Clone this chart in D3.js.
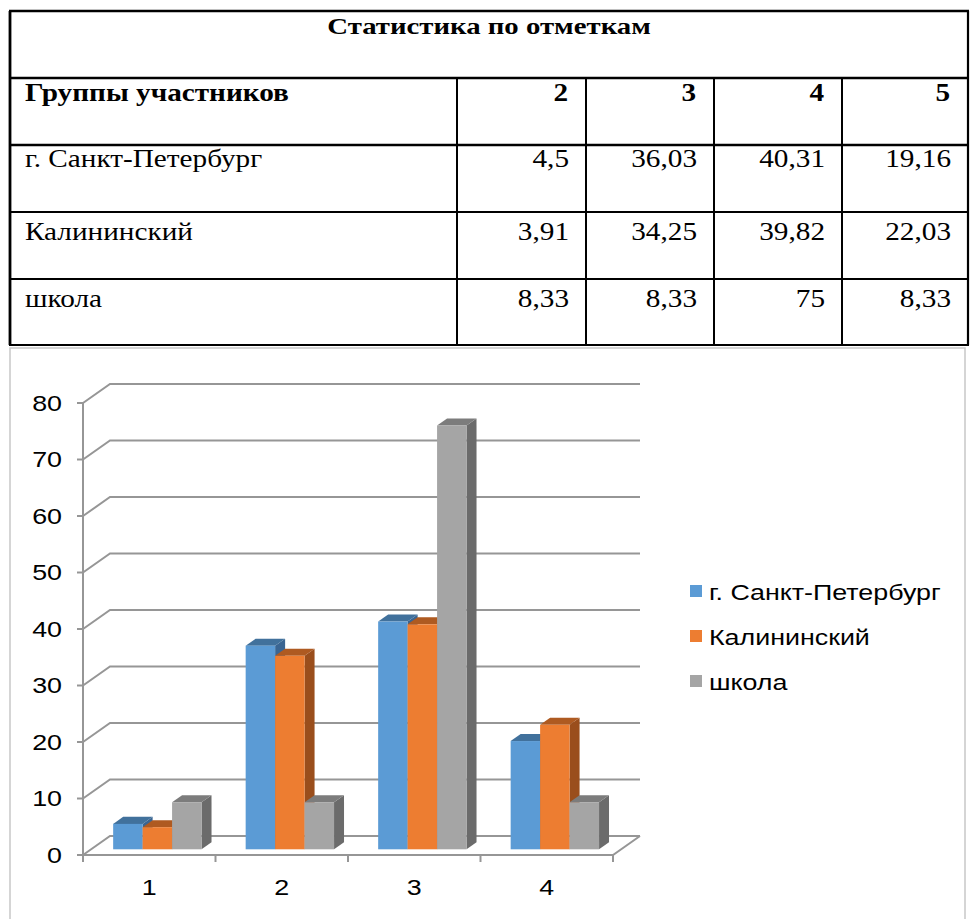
<!DOCTYPE html>
<html>
<head>
<meta charset="utf-8">
<script src="https://cdn.jsdelivr.net/npm/d3@7"></script>
<style>
  body { margin: 0; background: #fff; }
</style>
</head>
<body>
<script>
// table + chart data
const title = "Статистика по отметкам";
const headLabel = "Группы участников";
const marks = ["2", "3", "4", "5"];
const groups = ["г. Санкт-Петербург", "Калининский", "школа"];
const spb = [4.5, 36.03, 40.31, 19.16];
const kalin = [3.91, 34.25, 39.82, 22.03];
const school = [8.33, 8.33, 75, 8.33];
const categories = ["1", "2", "3", "4"];
const yTicks = [0, 10, 20, 30, 40, 50, 60, 70, 80];
const colors = ["#5b9bd5", "#ed7d31", "#a5a5a5"];
const tops = ["#41719c", "#ae5a21", "#7c7c7c"];
const sides = ["#3a6592", "#9a4e1c", "#6b6b6b"];

const series = [spb, kalin, school];
const fmt = v => String(v).replace(".", ",");

const W = 970, H = 919;
const svg = d3.select("body").append("svg")
    .attr("width", W).attr("height", H)
    .attr("viewBox", [0, 0, W, H]);

// text placed at (x,y), stretched horizontally (the picture is wider than tall)
function label(sel, x, y, txt, opts) {
  return sel.append("text")
    .attr("transform", `translate(${x},${y}) scale(${opts.sx},1)`)
    .attr("text-anchor", opts.anchor || "start")
    .attr("dy", opts.dy || null)
    .style("font-family", opts.family)
    .style("font-weight", opts.bold ? "700" : "400")
    .style("font-size", opts.size + "px")
    .attr("fill", "#000")
    .text(txt);
}

// ---------- table ----------
const tL = 10, tR = 968;
const colX = [tL, 457, 586, 714, 842, tR];
const rowY = [11, 78, 145, 212, 279, 345];
const baseY = [34, 101, 167, 240, 307];
const serif = "Liberation Serif";
const tf = {family: serif, size: 25, sx: 1.17};

const tbl = svg.append("g").attr("stroke", "#000").attr("fill", "none");
rowY.forEach((y, i) => {
  tbl.append("line").attr("x1", tL - 1).attr("x2", tR + 1).attr("y1", y).attr("y2", y)
    .attr("stroke-width", i < 3 ? 2.6 : 2);
});
tbl.append("line").attr("x1", tL).attr("x2", tL).attr("y1", rowY[0]).attr("y2", rowY[5]).attr("stroke-width", 2.8);
tbl.append("line").attr("x1", tR).attr("x2", tR).attr("y1", rowY[0]).attr("y2", rowY[5]).attr("stroke-width", 2.2);
colX.slice(1, 5).forEach(x => {
  tbl.append("line").attr("x1", x).attr("x2", x).attr("y1", rowY[1]).attr("y2", rowY[5]).attr("stroke-width", 2);
});

const tg = svg.append("g");
label(tg, (tL + tR) / 2, baseY[0], title, {...tf, anchor: "middle", bold: true, size: 24, sx: 1.2});
label(tg, 25, baseY[1], headLabel, {...tf, bold: true});
marks.forEach((m, i) => {
  label(tg, colX[i + 2] - 18, baseY[1], m, {...tf, anchor: "end", bold: true});
});
groups.forEach((g, r) => {
  label(tg, 25, baseY[r + 2], g, tf);
  series[r].forEach((v, i) => {
    label(tg, colX[i + 2] - 17, baseY[r + 2], fmt(v), {...tf, anchor: "end"});
  });
});

// ---------- chart ----------
const sans = "Liberation Sans";
const cf = {family: sans, size: 22, sx: 1.22};
svg.append("path")
  .attr("d", `M10,${H + 2}V348H965V${H + 2}`)
  .attr("fill", "none").attr("stroke", "#c8c8c8").attr("stroke-width", 1.5);

const x0 = 83, x1 = 613;
const depth = [27, -19];
const y = d3.scaleLinear().domain([0, 80]).range([855, 403]);
const xCat = d3.scaleBand().domain(categories).range([x0, x1])
  .paddingInner(0.333).paddingOuter(0.1665);
const xSer = d3.scaleBand().domain(d3.range(series.length)).range([0, xCat.bandwidth()]);
const step = (x1 - x0) / categories.length;

const grid = svg.append("g").attr("stroke", "#969696").attr("stroke-width", 2).attr("fill", "none");
// back wall gridlines + left wall diagonals
yTicks.forEach(v => {
  const yy = y(v);
  grid.append("path")
    .attr("d", `M${x0},${yy}L${x0 + depth[0]},${yy + depth[1]}H${x1 + depth[0]}`);
  grid.append("line").attr("x1", x0 - 6).attr("x2", x0).attr("y1", yy).attr("y2", yy);
});
grid.append("line").attr("x1", x0).attr("x2", x0).attr("y1", y(80)).attr("y2", y(0));
// floor front edge and right edge
grid.append("path").attr("d", `M${x0},${y(0)}H${x1}L${x1 + depth[0]},${y(0) + depth[1]}`);
d3.range(categories.length + 1).forEach(i => {
  const xx = x0 + i * step;
  grid.append("line").attr("x1", xx).attr("x2", xx).attr("y1", y(0)).attr("y2", y(0) + 7);
});

const ax = svg.append("g");
yTicks.forEach(v => label(ax, 62, y(v), v, {...cf, anchor: "end", dy: "0.35em"}));
categories.forEach(c => label(ax, xCat(c) + xCat.bandwidth() / 2, 895, c, {...cf, anchor: "middle"}));

// 3D bars: front plane at 30% of depth, back at 67%
const f0 = 0.3, f1 = 0.67;
const fdx = depth[0] * f0, fdy = depth[1] * f0;
const bdx = depth[0] * (f1 - f0), bdy = depth[1] * (f1 - f0);
const bars = svg.append("g");
categories.forEach((c, ci) => {
  series.forEach((s, si) => {
    const bx = xCat(c) + xSer(si) + fdx;
    const bw = xSer.bandwidth();
    const yt = y(s[ci]) + fdy, yb = y(0) + fdy;
    bars.append("path")
      .attr("d", `M${bx + bw},${yt}L${bx + bw + bdx},${yt + bdy}V${yb + bdy}L${bx + bw},${yb}Z`)
      .attr("fill", sides[si]);
    bars.append("path")
      .attr("d", `M${bx},${yt}L${bx + bdx},${yt + bdy}H${bx + bw + bdx}L${bx + bw},${yt}Z`)
      .attr("fill", tops[si]);
    bars.append("rect")
      .attr("x", bx).attr("y", yt).attr("width", bw).attr("height", yb - yt)
      .attr("fill", colors[si]);
  });
});

// legend
const leg = svg.append("g");
groups.forEach((g, i) => {
  const ly = 592 + i * 45;
  leg.append("rect").attr("x", 690).attr("y", ly - 7).attr("width", 12).attr("height", 12)
    .attr("fill", colors[i]);
  label(leg, 709, ly, g, {...cf, dy: "0.35em"});
});
</script>
</body>
</html>
